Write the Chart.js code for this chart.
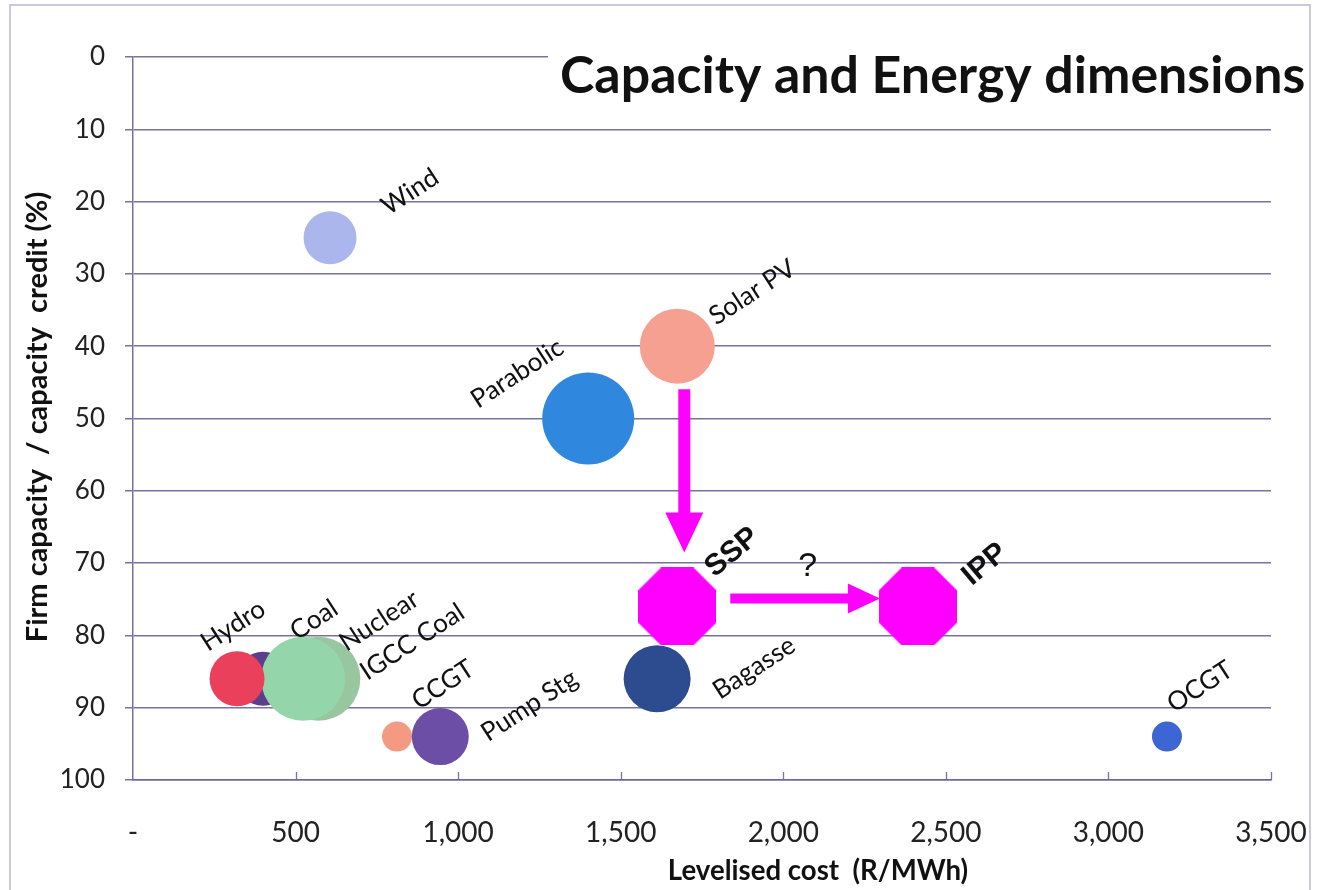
<!DOCTYPE html>
<html>
<head>
<meta charset="utf-8">
<title>Capacity and Energy dimensions</title>
<script src="https://cdn.jsdelivr.net/npm/chart.js@4.4.1/dist/chart.umd.min.js"></script>
<style>
  html, body { margin: 0; padding: 0; background: #ffffff; }
  #wrap { width: 1317px; height: 890px; }
</style>
</head>
<body>
<div id="wrap"><canvas id="chart" width="1317" height="890"></canvas></div>
<script>
// Generation technologies, listed in drawing order (later ones sit on top)
const technologies = ['Wind', 'Solar PV', 'Parabolic', 'Coal', 'IGCC Coal', 'Nuclear', 'Hydro', 'CCGT', 'Pump Stg', 'Bagasse', 'OCGT'];
// Levelised cost (R/MWh)
const levelisedCost = [606, 1674, 1400, 400, 570, 523, 320, 812, 945, 1612, 3180];
// Firm capacity / capacity credit (%)
const capacityCredit = [25, 40, 50, 86, 86, 86, 86, 94, 94, 86, 94];
// Bubble size (radius)
const bubbleSize = [26.5, 37.5, 46, 27, 42, 42, 27.5, 15, 28.5, 33.5, 15];

// Procurement options shown as octagons
const options = ['SSP', 'IPP'];
const optionCost = [1674, 2414];
const optionCredit = [76, 76];

// Axis ticks
const xTickStep = 500, xMax = 3500;
const yTickStep = 10, yMax = 100;

const bubbleColours = {
  'Wind': '#abb7ec', 'Solar PV': '#f5a090', 'Parabolic': '#2f88de', 'Coal': '#5b3f8c',
  'IGCC Coal': '#98c69e', 'Nuclear': '#94d6a9', 'Hydro': '#ea405c', 'CCGT': '#f59a82',
  'Pump Stg': '#6d4ea6', 'Bagasse': '#2d4b8f', 'OCGT': '#3c66d4'
};
const MAGENTA = '#ff00ff';
const GRID = 'rgba(108,102,148,0.92)';

// Label placement relative to each mark (px)
const labelOffsets = {
  'Wind': [80, -46], 'Solar PV': [75, -54], 'Parabolic': [-71, -45], 'Coal': [51, -59],
  'IGCC Coal': [94, -37], 'Nuclear': [76, -58], 'Hydro': [-4, -53], 'CCGT': [46, -52],
  'Pump Stg': [89, -31], 'Bagasse': [97, -11], 'OCGT': [33, -50],
  'SSP': [55, -54], 'IPP': [67, -42]
};

function octagon(w, colour) {
  const c = document.createElement('canvas');
  c.width = w; c.height = w;
  const g = c.getContext('2d');
  const k = w / (2 + Math.SQRT2);
  g.beginPath();
  g.moveTo(k, 0); g.lineTo(w - k, 0); g.lineTo(w, k); g.lineTo(w, w - k);
  g.lineTo(w - k, w); g.lineTo(k, w); g.lineTo(0, w - k); g.lineTo(0, k);
  g.closePath();
  g.fillStyle = colour;
  g.fill();
  return c;
}
const octagonMark = octagon(78, MAGENTA);

function fitFont(ctx, text, weight, family, width) {
  ctx.font = `${weight} 100px ${family}`;
  const size = 100 * width / ctx.measureText(text).width;
  return `${weight} ${size.toFixed(1)}px ${family}`;
}

function arrow(ctx, x0, y0, x1, y1, shaft, headW, headL) {
  const ang = Math.atan2(y1 - y0, x1 - x0);
  const len = Math.hypot(x1 - x0, y1 - y0);
  ctx.save();
  ctx.translate(x0, y0);
  ctx.rotate(ang);
  ctx.beginPath();
  ctx.moveTo(0, -shaft / 2);
  ctx.lineTo(len - headL, -shaft / 2);
  ctx.lineTo(len - headL, -headW / 2);
  ctx.lineTo(len, 0);
  ctx.lineTo(len - headL, headW / 2);
  ctx.lineTo(len - headL, shaft / 2);
  ctx.lineTo(0, shaft / 2);
  ctx.closePath();
  ctx.fillStyle = MAGENTA;
  ctx.fill();
  ctx.restore();
}

const annotations = {
  id: 'annotations',
  beforeDraw(chart) {
    const ctx = chart.ctx;
    ctx.save();
    ctx.fillStyle = '#ffffff';
    ctx.fillRect(0, 0, chart.width, chart.height);
    ctx.restore();
  },
  beforeDatasetsDraw(chart) {
    // inside tick marks along the cost axis
    const ctx = chart.ctx, xs = chart.scales.x, area = chart.chartArea;
    ctx.save();
    ctx.strokeStyle = GRID;
    ctx.lineWidth = 1.3;
    for (let v = xTickStep; v <= xMax; v += xTickStep) {
      const px = Math.round(xs.getPixelForValue(v)) + 0.5;
      ctx.beginPath();
      ctx.moveTo(px, area.bottom);
      ctx.lineTo(px, area.bottom - 8);
      ctx.stroke();
    }
    ctx.restore();
  },
  afterDatasetsDraw(chart) {
    const ctx = chart.ctx;
    const bubbles = chart.getDatasetMeta(0).data;
    const marks = chart.getDatasetMeta(1).data;
    const solar = bubbles[technologies.indexOf('Solar PV')];
    const solarR = bubbleSize[technologies.indexOf('Solar PV')];
    const ssp = marks[0], ipp = marks[1];

    // arrows: Solar PV -> SSP -> IPP
    arrow(ctx, solar.x + 7, solar.y + solarR + 5.5, solar.x + 7, ssp.y - 54, 12, 38, 40);
    arrow(ctx, ssp.x + 53, ssp.y - 8, ipp.x - 38, ipp.y - 8, 10, 30, 32);

    ctx.save();
    ctx.fillStyle = '#111111';
    ctx.textAlign = 'center';
    ctx.textBaseline = 'middle';
    ctx.font = '34px "Liberation Sans", Arial, sans-serif';
    ctx.fillText('?', (ssp.x + ipp.x) / 2 + 10, ssp.y - 40);
    ctx.restore();

    // rotated technology labels
    const drawLabel = (name, el, font, angle) => {
      const off = labelOffsets[name];
      ctx.save();
      ctx.translate(el.x + off[0], el.y + off[1]);
      ctx.rotate(angle);
      ctx.font = font;
      ctx.fillStyle = '#111111';
      ctx.textAlign = 'center';
      ctx.textBaseline = 'middle';
      ctx.fillText(name, 0, 0);
      ctx.restore();
    };
    technologies.forEach((name, i) => drawLabel(name, bubbles[i], '26px Lato, sans-serif', -33 * Math.PI / 180));
    options.forEach((name, i) => drawLabel(name, marks[i], 'bold 30px "Liberation Sans", Arial, sans-serif', -40 * Math.PI / 180));
  },
  afterDraw(chart) {
    const ctx = chart.ctx;
    ctx.save();
    // chart title on its own white panel
    ctx.fillStyle = '#ffffff';
    ctx.fillRect(548, 44, 762, 66);
    const title = 'Capacity and Energy dimensions';
    ctx.font = fitFont(ctx, title, 'bold', 'Lato, sans-serif', 745);
    ctx.fillStyle = '#111111';
    ctx.textAlign = 'left';
    ctx.textBaseline = 'alphabetic';
    ctx.fillText(title, 560, 93);

    // axis titles
    const xTitle = 'Levelised cost  (R/MWh)';
    ctx.font = fitFont(ctx, xTitle, 'bold', 'Lato, sans-serif', 300);
    ctx.textAlign = 'center';
    ctx.textBaseline = 'middle';
    ctx.fillText(xTitle, 818, 871);

    const yTitle = 'Firm capacity  / capacity  credit (%)';
    ctx.translate(38, 417);
    ctx.rotate(-Math.PI / 2);
    ctx.font = fitFont(ctx, yTitle, 'bold', 'Lato, sans-serif', 450);
    ctx.fillText(yTitle, 0, 0);
    ctx.restore();

    // outer frame
    ctx.save();
    ctx.strokeStyle = '#b9b6cf';
    ctx.lineWidth = 1.5;
    ctx.strokeRect(10, 5, 1300, 900);
    ctx.restore();
  }
};

new Chart(document.getElementById('chart'), {
  type: 'bubble',
  data: {
    datasets: [
      {
        label: 'Technologies',
        data: technologies.map((t, i) => ({ x: levelisedCost[i], y: capacityCredit[i], r: bubbleSize[i] })),
        backgroundColor: technologies.map(t => bubbleColours[t]),
        borderWidth: 0,
        hoverRadius: 0
      },
      {
        label: 'Options',
        data: options.map((t, i) => ({ x: optionCost[i], y: optionCredit[i], r: 39 })),
        pointStyle: octagonMark,
        backgroundColor: MAGENTA,
        borderWidth: 0
      }
    ]
  },
  options: {
    responsive: false,
    animation: false,
    events: [],
    layout: { padding: { top: 57, right: 46, left: 0, bottom: 0 } },
    plugins: { legend: { display: false }, tooltip: { enabled: false } },
    scales: {
      x: {
        type: 'linear',
        min: 0,
        max: xMax,
        afterFit(scale) { scale.height = 110; scale.paddingLeft = 0; scale.paddingRight = 0; },
        ticks: {
          stepSize: xTickStep,
          padding: 28,
          color: '#222222',
          font: { family: 'Lato, sans-serif', size: 28 },
          maxRotation: 0,
          callback: v => (v === 0 ? '-' : v.toLocaleString('en-US'))
        },
        grid: { display: false },
        border: { display: true, color: GRID, width: 1.5 }
      },
      y: {
        type: 'linear',
        reverse: true,
        min: 0,
        max: yMax,
        afterFit(scale) { scale.width = 133; scale.paddingTop = 0; scale.paddingBottom = 0; },
        ticks: {
          stepSize: yTickStep,
          padding: 20,
          color: '#222222',
          font: { family: 'Lato, sans-serif', size: 26 }
        },
        grid: { color: GRID, lineWidth: 1.5, tickLength: 8 },
        border: { display: true, color: GRID, width: 1.5 }
      }
    }
  },
  plugins: [annotations]
});
</script>
</body>
</html>
